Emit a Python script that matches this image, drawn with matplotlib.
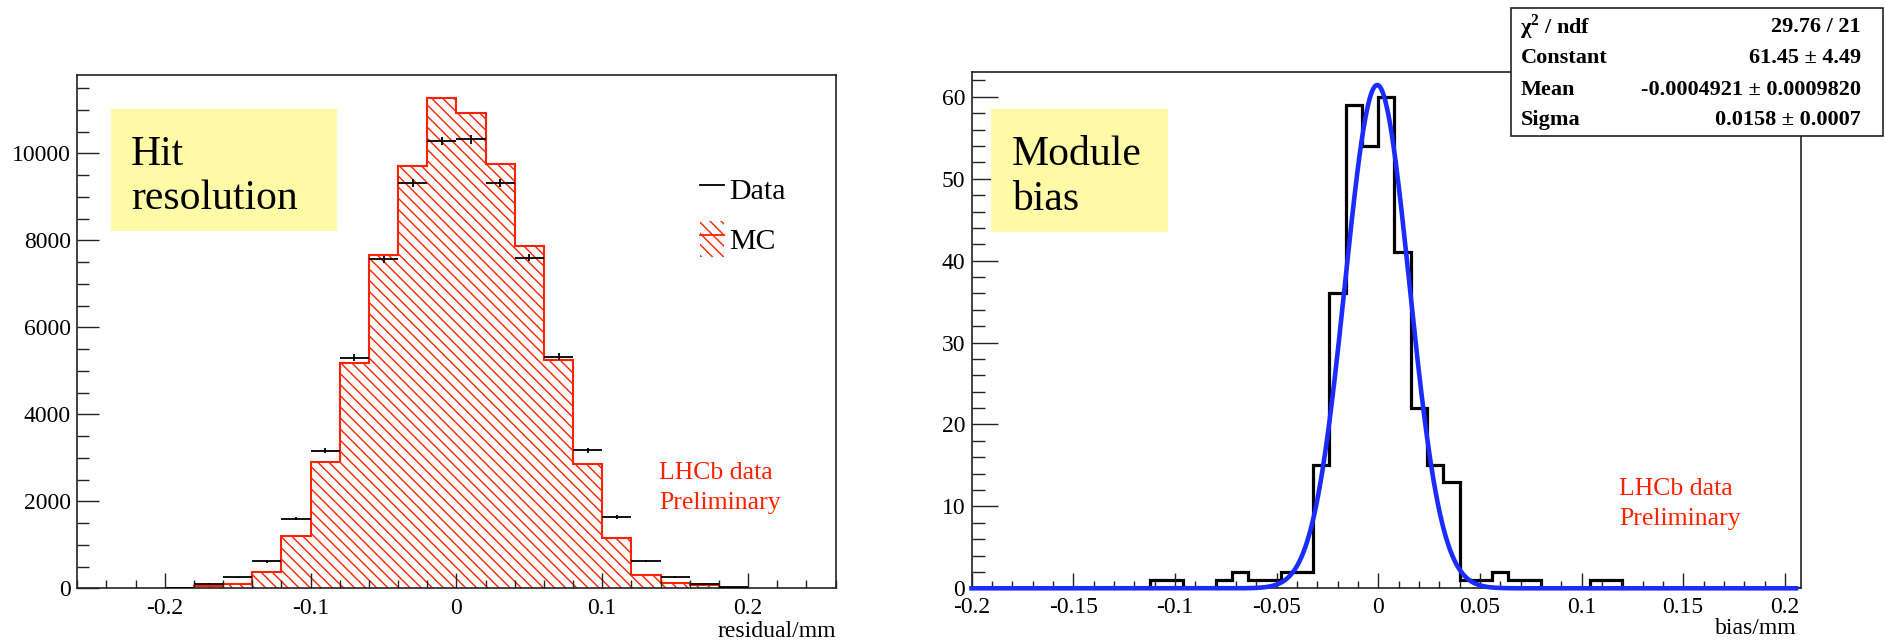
import matplotlib
matplotlib.use('Agg')
import matplotlib.pyplot as plt
from matplotlib.patches import Rectangle, Patch
from matplotlib.lines import Line2D
from matplotlib.ticker import MultipleLocator, FuncFormatter
import numpy as np

plt.rcParams['font.family'] = ['Liberation Serif', 'DejaVu Serif']
plt.rcParams['mathtext.fontset'] = 'custom'
plt.rcParams['mathtext.rm'] = 'Liberation Serif'
plt.rcParams['mathtext.bf'] = 'Liberation Serif:bold'
plt.rcParams['hatch.linewidth'] = 1.0

red = '#ff2200'
blue = '#1a2cff'
pale_yellow = '#fffaa6'

# hit residuals, 0.02 mm bins
res_edges = np.linspace(-0.2, 0.2, 21)
mc_counts = [3, 49, 99, 378, 1192, 2895, 5181, 7673, 9704, 11275,
             10921, 9762, 7879, 5247, 2862, 1168, 312, 123, 66, 16]
data_counts = [15, 107, 255, 617, 1604, 3166, 5304, 7566, 9318, 10288,
               10329, 9318, 7607, 5329, 3174, 1645, 625, 263, 107, 33]

# module bias, 0.008 mm bins
bias_edges = np.linspace(-0.2, 0.208, 52)
bias_counts = [0, 0, 0, 0, 0, 0, 0, 0, 0, 0,
               0, 1, 1, 0, 0, 1, 2, 1, 1, 2,
               2, 15, 36, 59, 54, 60, 41, 22, 15, 13,
               1, 1, 2, 1, 1, 0, 0, 0, 1, 1,
               0, 0, 0, 0, 0, 0, 0, 0, 0, 0, 0]

# gaussian fit result
fit_const = 61.45
fit_mean = -0.0004921
fit_sigma = 0.0158
stat_names = ['χ$^{\\mathbf{2}}$ / ndf', 'Constant', 'Mean', 'Sigma']
stat_values = ['29.76 / 21', '61.45 ± 4.49', '-0.0004921 ± 0.0009820', '0.0158 ± 0.0007']

hatch = '\\\\\\'


def root_fmt(v, pos):
    if abs(v) < 1e-9:
        return '0'
    return '%g' % round(v, 6)


fig = plt.figure(figsize=(18.85, 6.41), dpi=100, facecolor='white')
ax1 = fig.add_axes([0.0410, 0.0822, 0.4023, 0.8012])
ax2 = fig.add_axes([0.5154, 0.0822, 0.4401, 0.8050])

# ---- left: hit resolution ----
ax1.stairs(mc_counts, res_edges, fill=True, facecolor='white',
           edgecolor=red, hatch=hatch, lw=1.5)
centers = 0.5 * (res_edges[:-1] + res_edges[1:])
half_w = 0.5 * np.diff(res_edges)
ax1.errorbar(centers, data_counts, xerr=half_w, yerr=np.sqrt(data_counts),
             fmt='none', ecolor='black', elinewidth=1.3, capsize=0, zorder=3)
ax1.set_xlim(-0.26, 0.26)
ax1.set_ylim(0, 11810)
ax1.xaxis.set_major_locator(MultipleLocator(0.1))
ax1.xaxis.set_minor_locator(MultipleLocator(0.02))
ax1.yaxis.set_major_locator(MultipleLocator(2000))
ax1.yaxis.set_minor_locator(MultipleLocator(500))
ax1.xaxis.set_major_formatter(FuncFormatter(root_fmt))
ax1.tick_params(axis='y', which='major', length=16, pad=4.5)
ax1.tick_params(axis='y', which='minor', length=8.5)
ax1.tick_params(axis='x', which='major', length=11, pad=7)
ax1.tick_params(axis='x', which='minor', length=5.8)
ax1.set_xlabel('residual/mm', loc='right', fontsize=17)
ax1.xaxis.set_label_coords(1.0, -0.064)

handles = [Line2D([], [], color='black', lw=1.3),
           (Patch(facecolor='white', edgecolor=red, hatch=hatch, lw=0),
            Line2D([], [], color=red, lw=1.3))]
ax1.legend(handles, ['Data', 'MC'], loc='upper left', bbox_to_anchor=(0.8211, 0.8126),
           frameon=False, fontsize=21.5, handlelength=0.8, handleheight=1.5,
           handletextpad=0.17, labelspacing=0.45, borderpad=0, borderaxespad=0)

ax1.add_patch(Rectangle((0.0444, 0.6957), 0.2976, 0.2375, transform=ax1.transAxes,
                        facecolor=pale_yellow, edgecolor='none', zorder=4))
ax1.text(0.0708, 0.801, 'Hit\nresolution', transform=ax1.transAxes, fontsize=30,
         ha='left', va='center', zorder=5)
ax1.text(0.767, 0.246, 'LHCb data\nPreliminary', transform=ax1.transAxes, fontsize=18.5,
         color=red, ha='left', va='top', linespacing=1.45)

# ---- right: module bias ----
ax2.stairs(bias_counts, bias_edges, color='black', lw=2.3)
xf = np.linspace(bias_edges[0], 0.2055, 800)
ax2.plot(xf, fit_const * np.exp(-0.5 * ((xf - fit_mean) / fit_sigma) ** 2),
         color=blue, lw=3.3, clip_on=False, zorder=3)
ax2.set_xlim(bias_edges[0], bias_edges[-1])
ax2.set_ylim(0, 63)
ax2.xaxis.set_major_locator(MultipleLocator(0.05))
ax2.xaxis.set_minor_locator(MultipleLocator(0.01))
ax2.yaxis.set_major_locator(MultipleLocator(10))
ax2.yaxis.set_minor_locator(MultipleLocator(2))
ax2.xaxis.set_major_formatter(FuncFormatter(root_fmt))
ax2.tick_params(axis='y', which='major', length=18.5, pad=4.5)
ax2.tick_params(axis='y', which='minor', length=9.4)
ax2.tick_params(axis='x', which='major', length=10.8, pad=6.3)
ax2.tick_params(axis='x', which='minor', length=5)
ax2.set_xlabel('bias/mm', loc='right', fontsize=17)
ax2.xaxis.set_label_coords(0.9948, -0.058)

ax2.add_patch(Rectangle((0.0235, 0.6905), 0.2130, 0.2384, transform=ax2.transAxes,
                        facecolor=pale_yellow, edgecolor='none', zorder=4))
ax2.text(0.0484, 0.797, 'Module\nbias', transform=ax2.transAxes, fontsize=30,
         ha='left', va='center', zorder=5)
ax2.text(0.7806, 0.213, 'LHCb data\nPreliminary', transform=ax2.transAxes, fontsize=18.5,
         color=red, ha='left', va='top', linespacing=1.45)

for ax in (ax1, ax2):
    ax.tick_params(which='both', direction='in', top=False, right=False,
                   labelsize=17, width=1.0, color='#222222')
    for s in ax.spines.values():
        s.set_linewidth(1.2)
        s.set_color('#222222')

# stats box of the fit, sitting over the top right corner
fig.add_artist(Rectangle((0.8014, 0.7878), 0.1975, 0.2002, transform=fig.transFigure,
                         facecolor='white', edgecolor='#222222', lw=1.2, zorder=10))
row_y = [0.958, 0.9095, 0.8595, 0.8128]
for name, val, y in zip(stat_names, stat_values, row_y):
    fig.text(0.8066, y, name, fontsize=16, fontweight='bold', ha='left', va='center', zorder=11)
    fig.text(0.9873, y, val, fontsize=16, fontweight='bold', ha='right', va='center', zorder=11)

fig.savefig('out.png', dpi=100)
